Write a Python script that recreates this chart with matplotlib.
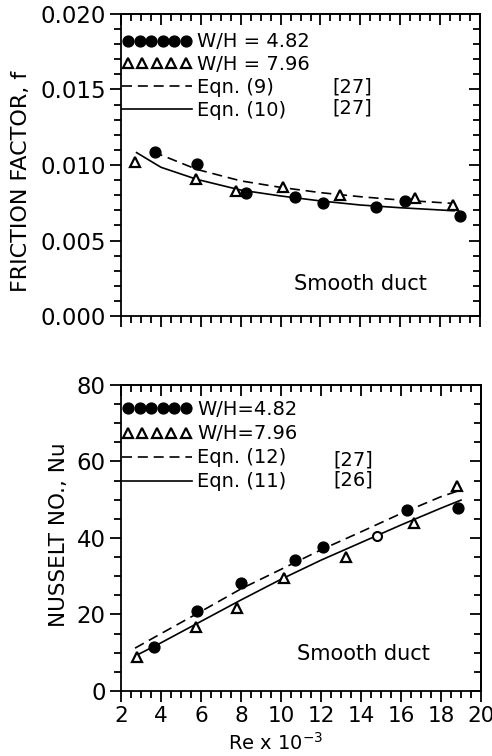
import matplotlib
matplotlib.use('Agg')
import matplotlib.pyplot as plt
from matplotlib.ticker import MultipleLocator, FormatStrFormatter
from matplotlib.lines import Line2D
from matplotlib.legend_handler import HandlerLine2D

# ---------------- data: friction factor panel ----------------
re_f_circ = [3.70, 5.79, 8.25, 10.71, 12.11, 14.80, 16.26, 19.0]
f_circ = [0.01083, 0.01008, 0.00812, 0.00786, 0.00747, 0.00719, 0.00763, 0.00662]
re_f_tri = [2.68, 5.75, 7.74, 10.10, 13.0, 16.75, 18.63]
f_tri = [0.01017, 0.00907, 0.00828, 0.00852, 0.00800, 0.00784, 0.00738]
re_eq9 = [3.6, 5.8, 8.0, 10.0, 12.0, 14.0, 16.0, 18.6]
f_eq9 = [0.01088, 0.00971, 0.00895, 0.00852, 0.00817, 0.00790, 0.00768, 0.00746]
re_eq10 = [2.78, 4.0, 5.8, 8.0, 10.0, 12.0, 14.0, 16.0, 18.7]
f_eq10 = [0.01082, 0.00985, 0.00905, 0.00834, 0.00795, 0.00762, 0.00735, 0.00717, 0.00697]

# ---------------- data: Nusselt panel ----------------
re_nu_circ = [3.65, 5.78, 7.98, 10.68, 12.12, 16.32, 18.87]
nu_circ = [11.6, 21.0, 28.1, 34.2, 37.6, 47.2, 47.9]
re_nu_open = [14.78]
nu_open = [40.5]
re_nu_tri = [2.78, 5.73, 7.82, 10.15, 13.23, 16.67, 18.82]
nu_tri = [9.0, 16.8, 21.8, 29.6, 35.1, 44.0, 53.6]
re_eq12 = [2.7, 4.0, 6.0, 8.0, 10.0, 12.0, 14.0, 16.0, 18.0, 18.8]
nu_eq12 = [11.2, 15.0, 20.8, 26.7, 31.8, 36.9, 41.6, 46.4, 50.8, 52.2]
re_eq11 = [2.8, 4.0, 6.0, 8.0, 10.0, 12.0, 14.0, 16.0, 18.0, 19.0]
nu_eq11 = [9.4, 12.6, 18.2, 23.8, 29.2, 34.2, 38.8, 43.4, 47.8, 49.9]

x_ticks = [2, 4, 6, 8, 10, 12, 14, 16, 18, 20]
f_ticks = [0.000, 0.005, 0.010, 0.015, 0.020]
nu_ticks = [0, 20, 40, 60, 80]

plt.rcParams['font.family'] = ['DejaVu Sans']
LW = 1.3
LEG_FS = 14
fig = plt.figure(figsize=(4.92, 7.56), dpi=100)
ax1 = fig.add_axes([0.246, 0.582, 0.7297, 0.3995])
ax2 = fig.add_axes([0.246, 0.086, 0.7317, 0.4048])


def style_axes(ax, yticks, yminor, ylim, xlabels, yfmt):
    ax.set_xlim(2, 20)
    ax.set_ylim(*ylim)
    ax.set_xticks(x_ticks)
    ax.xaxis.set_minor_locator(MultipleLocator(0.5))
    ax.set_yticks(yticks)
    ax.yaxis.set_minor_locator(MultipleLocator(yminor))
    ax.yaxis.set_major_formatter(FormatStrFormatter(yfmt))
    for s in ax.spines.values():
        s.set_linewidth(LW)
    ax.tick_params(which='both', direction='out', width=LW, top=False, right=False, pad=3)
    ax.tick_params(axis='y', labelsize=16.5)
    ax.tick_params(axis='x', labelsize=15.5)
    ax.tick_params(which='major', length=8)
    ax.tick_params(which='minor', length=5)
    if not xlabels:
        ax.tick_params(labelbottom=False)
    sx = ax.secondary_xaxis('top')
    sx.set_xticks(x_ticks)
    sx.xaxis.set_minor_locator(MultipleLocator(0.5))
    sx.tick_params(which='both', direction='in', width=LW, labeltop=False)
    sx.tick_params(which='major', length=8)
    sx.tick_params(which='minor', length=5)
    sx.spines['top'].set_linewidth(LW)
    sy = ax.secondary_yaxis('right')
    sy.set_yticks(yticks)
    sy.yaxis.set_minor_locator(MultipleLocator(yminor))
    sy.tick_params(which='both', direction='in', width=LW, labelright=False)
    sy.tick_params(which='major', length=8)
    sy.tick_params(which='minor', length=5)
    sy.spines['right'].set_linewidth(LW)


style_axes(ax1, f_ticks, 0.001, (0, 0.020), False, '%.3f')
style_axes(ax2, nu_ticks, 5, (0, 80), True, '%d')

mk_c = dict(marker='o', ms=7.8, color='black', ls='none')
mk_t = dict(marker='^', ms=6.5, mfc='white', mec='black', mew=1.6, ls='none')
DASH = (0, (6, 3.5))

# ---- top panel ----
ax1.plot(re_eq9, f_eq9, color='black', lw=1.2, ls=DASH)
ax1.plot(re_eq10, f_eq10, color='black', lw=1.2)
ax1.plot(re_f_tri, f_tri, **mk_t)
ax1.plot(re_f_circ, f_circ, **mk_c)

# ---- bottom panel ----
ax2.plot(re_eq12, nu_eq12, color='black', lw=1.2, ls=DASH)
ax2.plot(re_eq11, nu_eq11, color='black', lw=1.2)
ax2.plot(re_nu_tri, nu_tri, **mk_t)
ax2.plot(re_nu_circ, nu_circ, **mk_c)
ax2.plot(re_nu_open, nu_open, marker='o', ms=6.5, mfc='white', mec='black', mew=1.5, ls='none')


def make_legend(ax, labels, top, spacing):
    h_c = Line2D([], [], **mk_c)
    h_t = Line2D([], [], **mk_t)
    handles = [h_c, h_t,
               Line2D([], [], color='black', lw=1.2, ls=DASH),
               Line2D([], [], color='black', lw=1.2)]
    ax.legend(handles, labels, loc='upper left', bbox_to_anchor=(0.003, top),
              frameon=False, handlelength=3.58, handletextpad=0.27,
              labelspacing=spacing, fontsize=LEG_FS, borderpad=0, borderaxespad=0,
              handler_map={h_c: HandlerLine2D(numpoints=6),
                           h_t: HandlerLine2D(numpoints=5)})


make_legend(ax1, ['W/H = 4.82', 'W/H = 7.96', 'Eqn. (9)', 'Eqn. (10)'], 0.939, 0.2)
make_legend(ax2, ['W/H=4.82', 'W/H=7.96', 'Eqn. (12)', 'Eqn. (11)'], 0.95, 0.26)

ax1.text(0.59, 0.759, '[27]', transform=ax1.transAxes, fontsize=LEG_FS, va='center')
ax1.text(0.59, 0.690, '[27]', transform=ax1.transAxes, fontsize=LEG_FS, va='center')
ax2.text(0.59, 0.755, '[27]', transform=ax2.transAxes, fontsize=LEG_FS, va='center')
ax2.text(0.59, 0.690, '[26]', transform=ax2.transAxes, fontsize=LEG_FS, va='center')

ax1.text(0.482, 0.106, 'Smooth duct', transform=ax1.transAxes, fontsize=15, va='center')
ax2.text(0.489, 0.121, 'Smooth duct', transform=ax2.transAxes, fontsize=15, va='center')

ax1.text(-0.279, 0.447, 'FRICTION FACTOR, f', transform=ax1.transAxes, rotation=90,
         ha='center', va='center', fontsize=16)
ax2.text(-0.172, 0.511, 'NUSSELT NO., Nu', transform=ax2.transAxes, rotation=90,
         ha='center', va='center', fontsize=15.5)
ax2.text(0.431, -0.17, r'Re x 10$^{-3}$', transform=ax2.transAxes,
         ha='center', va='center', fontsize=14)

fig.savefig('out.png', dpi=100, facecolor='white')
